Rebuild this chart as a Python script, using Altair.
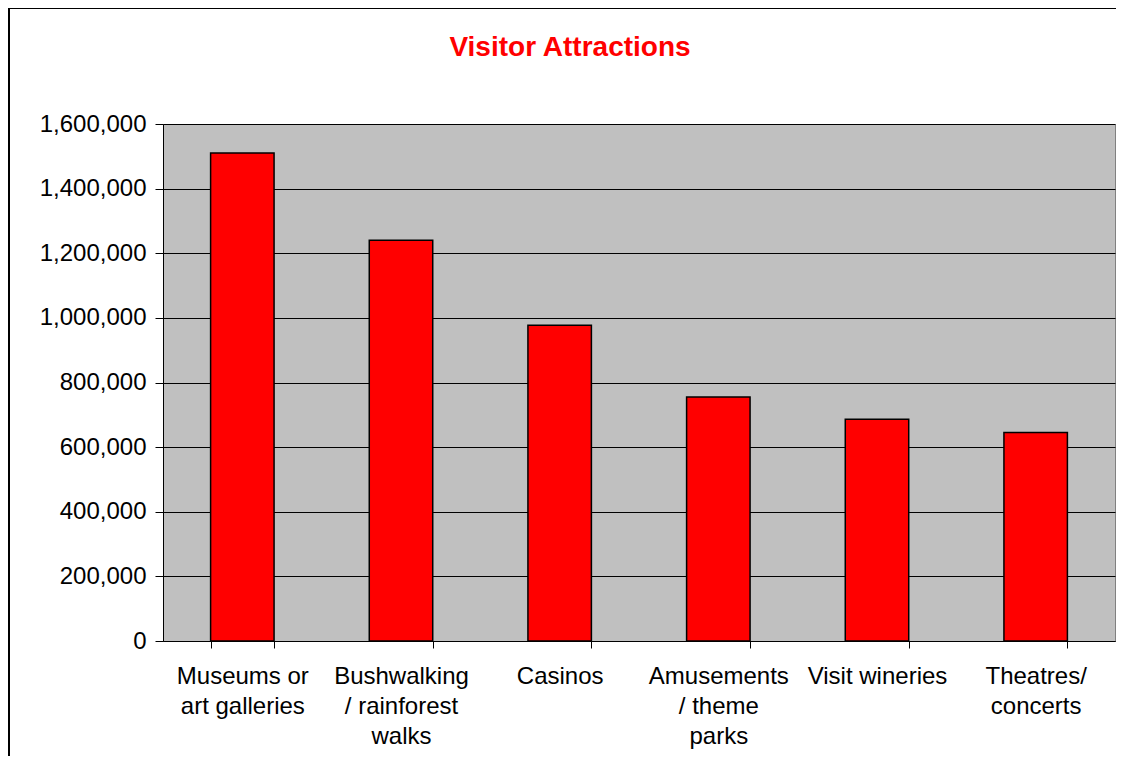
import altair as alt
import pandas as pd

categories = ["Museums or|art galleries", "Bushwalking|/ rainforest|walks", "Casinos",
              "Amusements|/ theme|parks", "Visit wineries", "Theatres/|concerts"]
visitors = [1510000, 1240000, 977000, 755000, 686000, 645000]
y_ticks = [0, 200000, 400000, 600000, 800000, 1000000, 1200000, 1400000, 1600000]
title_text = ["Visitor Attractions"]

df = pd.DataFrame({"cat": categories, "val": visitors})
FONT = "Liberation Sans"

bars = alt.Chart(df).mark_bar(color="#FF0000", stroke="#000000", strokeWidth=1.5).encode(
    x=alt.X("cat:N", sort=categories, title=None,
            scale=alt.Scale(paddingInner=0.6, paddingOuter=0.3),
            axis=alt.Axis(labelAngle=0, labelExpr="split(datum.label, '|')",
                          labelFontSize=24, labelFont=FONT, labelColor="#000000",
                          labelLineHeight=30, labelPadding=16, labelBaseline="top",
                          tickBand="extent", tickSize=7, tickColor="#000000",
                          domainColor="#000000", domainWidth=1, grid=False)),
    y=alt.Y("val:Q", title=None,
            scale=alt.Scale(domain=[0, 1600000], nice=False),
            axis=alt.Axis(values=y_ticks, format=",d", labelFontSize=24, labelFont=FONT,
                          labelColor="#000000", labelPadding=9, tickSize=8,
                          tickColor="#000000", domainColor="#000000", domainWidth=1,
                          grid=True, gridColor="#000000", gridWidth=1)),
)

title = alt.Chart(pd.DataFrame({"t": title_text})).mark_text(
    color="#FF0000", fontSize=28, font=FONT, fontWeight="bold",
    align="center", baseline="alphabetic").encode(
    text="t:N", x=alt.value(407), y=alt.value(-68))

frame_left = alt.Chart(df).mark_rule(color="#000000", strokeWidth=2).encode(
    x=alt.value(-154), y=alt.value(-117), y2=alt.value(660))
frame_top = alt.Chart(df).mark_rule(color="#000000", strokeWidth=2).encode(
    x=alt.value(-155), x2=alt.value(953), y=alt.value(-116))

chart = alt.layer(bars, title, frame_left, frame_top).properties(
    width=952, height=517,
    autosize=alt.AutoSizeParams(type="none"),
    padding={"left": 155, "top": 116, "right": 1, "bottom": 115},
    background="#FFFFFF",
).configure_view(fill="#C0C0C0", stroke="#808080", strokeWidth=1)

chart.save("out.html", embed_options={"renderer": "svg", "actions": False})
